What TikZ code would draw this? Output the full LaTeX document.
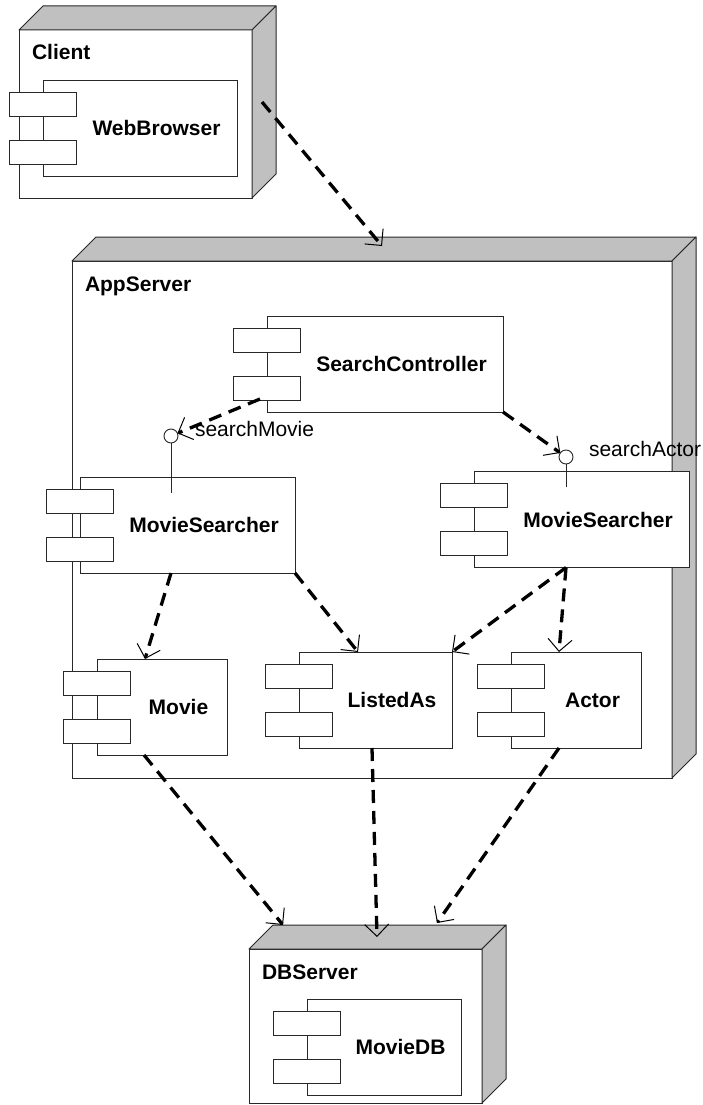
\documentclass[tikz,border=0pt]{standalone}
\usepackage{fontspec}
\setmainfont{Liberation Sans}
\usetikzlibrary{arrows.meta,calc}
\definecolor{boxgray}{RGB}{192,192,192}
\definecolor{edge}{RGB}{40,40,40}

% 3D deployment node: name, centre, width, height, title
\newcommand\umlnode[5]{%
  \node[face, minimum width=#3, minimum height=#4] (#1) at (#2) {};
  \draw[shade] (#1.north west) -- ++(24,-24) -- ($(#1.north east)+(24,-24)$) -- (#1.north east) -- cycle;
  \draw[shade] (#1.north east) -- ++(24,-24) -- ($(#1.south east)+(24,-24)$) -- (#1.south east) -- cycle;
  \node[nodelabel] (#1-name) at ($(#1.north west)+(13,30)$) {#5};
}
% UML component with two tabs: name, centre, width, label
\newcommand\umlcomp[4]{%
  \node[comp, minimum width=#3] (#1) at (#2) {};
  \node[tab] (#1-t1) at ($(#1.west)+(0,-24)$) {};
  \node[tab] (#1-t2) at ($(#1.west)+(0,24)$) {};
  \node[complabel] (#1-label) at ($(#1.center)+(16.5,0)$) {#4};
}

\begin{document}
\begin{tikzpicture}[x=1pt,y=-1pt,
  every node/.style={inner sep=0pt, outer sep=0pt},
  face/.style={draw=edge, line width=1pt, fill=white},
  shade/.style={draw=edge, line width=1pt, fill=boxgray, line join=round},
  comp/.style={draw=edge, line width=0.9pt, fill=white, minimum height=96pt},
  tab/.style={draw=edge, line width=0.9pt, fill=white, minimum width=67pt, minimum height=24pt},
  complabel/.style={font=\fontsize{21}{24}\selectfont\bfseries},
  nodelabel/.style={font=\fontsize{21}{24}\selectfont\bfseries, anchor=base west},
  iflabel/.style={font=\fontsize{21}{24}\selectfont, anchor=base west},
  iface/.style={circle, draw=edge, fill=white, minimum size=14pt, line width=0.9pt},
  lolly/.style={draw=edge, line width=0.9pt},
  dep/.style={line width=3.3pt, dash pattern=on 13pt off 8pt,
    -{Straight Barb[length=12pt,width=24pt,line width=1pt]}},
]
\useasboundingbox (0,0) rectangle (702,1105);

% deployment nodes
\umlnode{client}{135.5,114}{233pt}{168pt}{Client}
\umlnode{app}{372,519.5}{600pt}{517pt}{AppServer}
\umlnode{db}{365.5,1026}{233pt}{154pt}{DBServer}

% components
\umlcomp{wb}{140,128}{194pt}{WebBrowser}
\umlcomp{sc}{385,364}{236pt}{SearchController}
\umlcomp{msl}{187.5,525}{215pt}{MovieSearcher}
\umlcomp{msr}{581.5,519.5}{215pt}{MovieSearcher}
\umlcomp{movie}{162,707}{130pt}{Movie}
\umlcomp{listed}{375.5,700}{153pt}{ListedAs}
\umlcomp{actor}{576,700}{130pt}{Actor}
\umlcomp{mdb}{384,1047}{154pt}{MovieDB}

% provided interfaces
\node[iface] (im) at (171,436) {};
\node[iface] (ia) at (566,457) {};
\draw[lolly] (im.south) -- ++(0,50);
\draw[lolly] (ia.south) -- ++(0,23);
\node[iflabel] (im-label) at ($(im)+(24,0)$) {searchMovie};
\node[iflabel] (ia-label) at ($(ia)+(23,-1)$) {searchActor};

% dependencies
\draw[dep] ($(client.east)+(10,-12)$) -- ($(app.north)+(10,-15)$);
\draw[dep] ($(sc.south west)+(-7,-13)$) -- (im);
\draw[dep] (sc.south east) -- (ia);
\draw[dep] (im |- msl.south) -- ($(movie.north)+(-17,0)$);
\draw[dep] (msl.south east) -- ($(listed.north)+(-17.5,0)$);
\draw[dep] (ia |- msr.south) -- (listed.north east);
\draw[dep] (ia |- msr.south) -- ($(actor.north)+(-17,0)$);
\draw[dep] ($(movie.south)+(-18,0)$) -- ($(db.north)+(-82.5,-24)$);
\draw[dep] ($(listed.south)+(-3.5,0)$) -- ($(db.north)+(11.5,-12)$);
\draw[dep] ($(actor.south)+(-17,0)$) -- ($(db.north)+(71.5,-26)$);
\end{tikzpicture}
\end{document}
